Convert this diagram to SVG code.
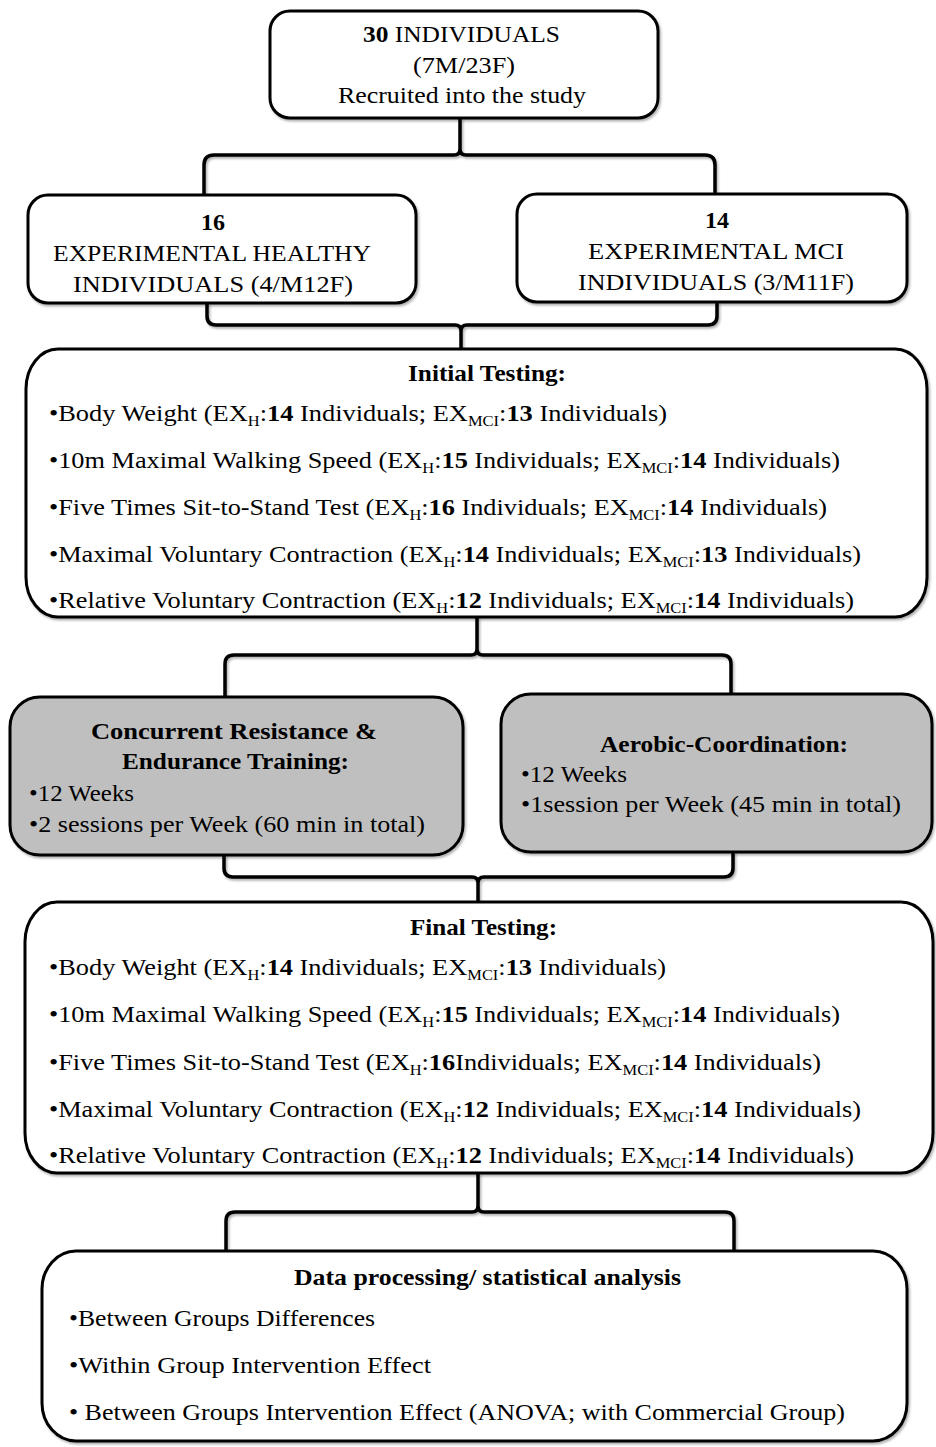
<svg xmlns="http://www.w3.org/2000/svg" width="936" height="1447" viewBox="0 0 936 1447" font-family="'Liberation Serif', Tinos, 'Times New Roman', Times, serif">
<style>
.box{fill:#fff;stroke:#000;stroke-width:3}
.gbox{fill:#bfbfbf;stroke:#000;stroke-width:3}
.con{fill:none;stroke:#000;stroke-width:3.5;stroke-linejoin:round}
text{font-family:'Liberation Serif',Tinos,'Times New Roman',Times,serif;font-size:24px;fill:#000}
.b{font-weight:bold}
.s{font-size:15px}
</style>
<defs>
<filter id="sh" x="-5%" y="-5%" width="110%" height="115%">
<feDropShadow dx="1.5" dy="2" stdDeviation="1" flood-color="#000" flood-opacity="0.3"/>
</filter>
</defs>
<rect width="936" height="1447" fill="#fff"/>
<g id="connectors" filter="url(#sh)">
<path class="con" d="M460,118 V149 Q460,155 454,155 H214 Q204,155 204,165 V194 M460,149 Q460,155 466,155 H705 Q715,155 715,165 V193"/>
<path class="con" d="M207,303 V316 Q207,325 216,325 H455 Q461,325 461,331 V349 M717,302 V316 Q717,325 708,325 H467 Q461,325 461,331"/>
<path class="con" d="M477,617 V649 Q477,655 471,655 H234 Q225,655 225,664 V697 M477,649 Q477,655 483,655 H722 Q731,655 731,664 V694"/>
<path class="con" d="M224,855 V868 Q224,877 233,877 H472 Q478,877 478,883 V902 M733,852 V868 Q733,877 724,877 H484 Q478,877 478,883"/>
<path class="con" d="M478,1173 V1206 Q478,1212 472,1212 H235 Q226,1212 226,1221 V1251 M478,1206 Q478,1212 484,1212 H725 Q734,1212 734,1221 V1251"/>
</g>
<g id="recruited">
<rect class="box" filter="url(#sh)" x="270" y="11" width="388" height="107" rx="20"/>
<text x="363" y="42" textLength="197" lengthAdjust="spacingAndGlyphs"><tspan class="b">30</tspan> INDIVIDUALS</text>
<text x="413" y="73" textLength="102" lengthAdjust="spacingAndGlyphs">(7M/23F)</text>
<text x="338" y="103" textLength="248" lengthAdjust="spacingAndGlyphs">Recruited into the study</text>
</g>
<g id="healthy">
<rect class="box" filter="url(#sh)" x="28" y="195" width="388" height="108" rx="20"/>
<text class="b" x="213" y="230" text-anchor="middle">16</text>
<text x="53" y="261" textLength="318" lengthAdjust="spacingAndGlyphs">EXPERIMENTAL HEALTHY</text>
<text x="73" y="292" textLength="280" lengthAdjust="spacingAndGlyphs">INDIVIDUALS (4/M12F)</text>
</g>
<g id="mci">
<rect class="box" filter="url(#sh)" x="517" y="194" width="390" height="108" rx="20"/>
<text class="b" x="717" y="228" text-anchor="middle">14</text>
<text x="588" y="259" textLength="256" lengthAdjust="spacingAndGlyphs">EXPERIMENTAL MCI</text>
<text x="578" y="290" textLength="276" lengthAdjust="spacingAndGlyphs">INDIVIDUALS (3/M11F)</text>
</g>
<g id="initial">
<rect class="box" filter="url(#sh)" x="26" y="349" width="901" height="268" rx="32" ry="40"/>
<text class="b" x="408" y="381" textLength="158" lengthAdjust="spacingAndGlyphs">Initial Testing:</text>
<text x="49" y="421" textLength="618" lengthAdjust="spacingAndGlyphs">•Body Weight (EX<tspan class="s" dy="5">H</tspan><tspan dy="-5">:</tspan><tspan class="b">14</tspan> Individuals; EX<tspan class="s" dy="5">MCI</tspan><tspan dy="-5">:</tspan><tspan class="b">13</tspan> Individuals)</text>
<text x="49" y="468" textLength="791" lengthAdjust="spacingAndGlyphs">•10m Maximal Walking Speed (EX<tspan class="s" dy="5">H</tspan><tspan dy="-5">:</tspan><tspan class="b">15</tspan> Individuals; EX<tspan class="s" dy="5">MCI</tspan><tspan dy="-5">:</tspan><tspan class="b">14</tspan> Individuals)</text>
<text x="49" y="515" textLength="778" lengthAdjust="spacingAndGlyphs">•Five Times Sit-to-Stand Test (EX<tspan class="s" dy="5">H</tspan><tspan dy="-5">:</tspan><tspan class="b">16</tspan> Individuals; EX<tspan class="s" dy="5">MCI</tspan><tspan dy="-5">:</tspan><tspan class="b">14</tspan> Individuals)</text>
<text x="49" y="562" textLength="812" lengthAdjust="spacingAndGlyphs">•Maximal Voluntary Contraction (EX<tspan class="s" dy="5">H</tspan><tspan dy="-5">:</tspan><tspan class="b">14</tspan> Individuals; EX<tspan class="s" dy="5">MCI</tspan><tspan dy="-5">:</tspan><tspan class="b">13</tspan> Individuals)</text>
<text x="49" y="608" textLength="805" lengthAdjust="spacingAndGlyphs">•Relative Voluntary Contraction (EX<tspan class="s" dy="5">H</tspan><tspan dy="-5">:</tspan><tspan class="b">12</tspan> Individuals; EX<tspan class="s" dy="5">MCI</tspan><tspan dy="-5">:</tspan><tspan class="b">14</tspan> Individuals)</text>
</g>
<g id="concurrent">
<rect class="gbox" filter="url(#sh)" x="10" y="697" width="453" height="158" rx="30"/>
<text class="b" x="91" y="739" textLength="286" lengthAdjust="spacingAndGlyphs">Concurrent Resistance &amp;</text>
<text class="b" x="122" y="769" textLength="227" lengthAdjust="spacingAndGlyphs">Endurance Training:</text>
<text x="29" y="801" textLength="105" lengthAdjust="spacingAndGlyphs">•12 Weeks</text>
<text x="29" y="832" textLength="396" lengthAdjust="spacingAndGlyphs">•2 sessions per Week (60 min in total)</text>
</g>
<g id="aerobic">
<rect class="gbox" filter="url(#sh)" x="501" y="694" width="431" height="158" rx="30"/>
<text class="b" x="600" y="752" textLength="248" lengthAdjust="spacingAndGlyphs">Aerobic-Coordination:</text>
<text x="521" y="782" textLength="106" lengthAdjust="spacingAndGlyphs">•12 Weeks</text>
<text x="521" y="812" textLength="380" lengthAdjust="spacingAndGlyphs">•1session per Week (45 min in total)</text>
</g>
<g id="final">
<rect class="box" filter="url(#sh)" x="25" y="902" width="908" height="271" rx="32" ry="40"/>
<text class="b" x="410" y="935" textLength="147" lengthAdjust="spacingAndGlyphs">Final Testing:</text>
<text x="49" y="975" textLength="617" lengthAdjust="spacingAndGlyphs">•Body Weight (EX<tspan class="s" dy="5">H</tspan><tspan dy="-5">:</tspan><tspan class="b">14</tspan> Individuals; EX<tspan class="s" dy="5">MCI</tspan><tspan dy="-5">:</tspan><tspan class="b">13</tspan> Individuals)</text>
<text x="49" y="1022" textLength="791" lengthAdjust="spacingAndGlyphs">•10m Maximal Walking Speed (EX<tspan class="s" dy="5">H</tspan><tspan dy="-5">:</tspan><tspan class="b">15</tspan> Individuals; EX<tspan class="s" dy="5">MCI</tspan><tspan dy="-5">:</tspan><tspan class="b">14</tspan> Individuals)</text>
<text x="49" y="1070" textLength="772" lengthAdjust="spacingAndGlyphs">•Five Times Sit-to-Stand Test (EX<tspan class="s" dy="5">H</tspan><tspan dy="-5">:</tspan><tspan class="b">16</tspan>Individuals; EX<tspan class="s" dy="5">MCI</tspan><tspan dy="-5">:</tspan><tspan class="b">14</tspan> Individuals)</text>
<text x="49" y="1117" textLength="812" lengthAdjust="spacingAndGlyphs">•Maximal Voluntary Contraction (EX<tspan class="s" dy="5">H</tspan><tspan dy="-5">:</tspan><tspan class="b">12</tspan> Individuals; EX<tspan class="s" dy="5">MCI</tspan><tspan dy="-5">:</tspan><tspan class="b">14</tspan> Individuals)</text>
<text x="49" y="1163" textLength="805" lengthAdjust="spacingAndGlyphs">•Relative Voluntary Contraction (EX<tspan class="s" dy="5">H</tspan><tspan dy="-5">:</tspan><tspan class="b">12</tspan> Individuals; EX<tspan class="s" dy="5">MCI</tspan><tspan dy="-5">:</tspan><tspan class="b">14</tspan> Individuals)</text>
</g>
<g id="analysis">
<rect class="box" filter="url(#sh)" x="42" y="1251" width="865" height="190" rx="34" ry="38"/>
<text class="b" x="294" y="1285" textLength="387" lengthAdjust="spacingAndGlyphs">Data processing/ statistical analysis</text>
<text x="69" y="1326" textLength="306" lengthAdjust="spacingAndGlyphs">•Between Groups Differences</text>
<text x="69" y="1373" textLength="362" lengthAdjust="spacingAndGlyphs">•Within Group Intervention Effect</text>
<text x="69" y="1420" textLength="776" lengthAdjust="spacingAndGlyphs">• Between Groups Intervention Effect (ANOVA; with Commercial Group)</text>
</g>
</svg>
